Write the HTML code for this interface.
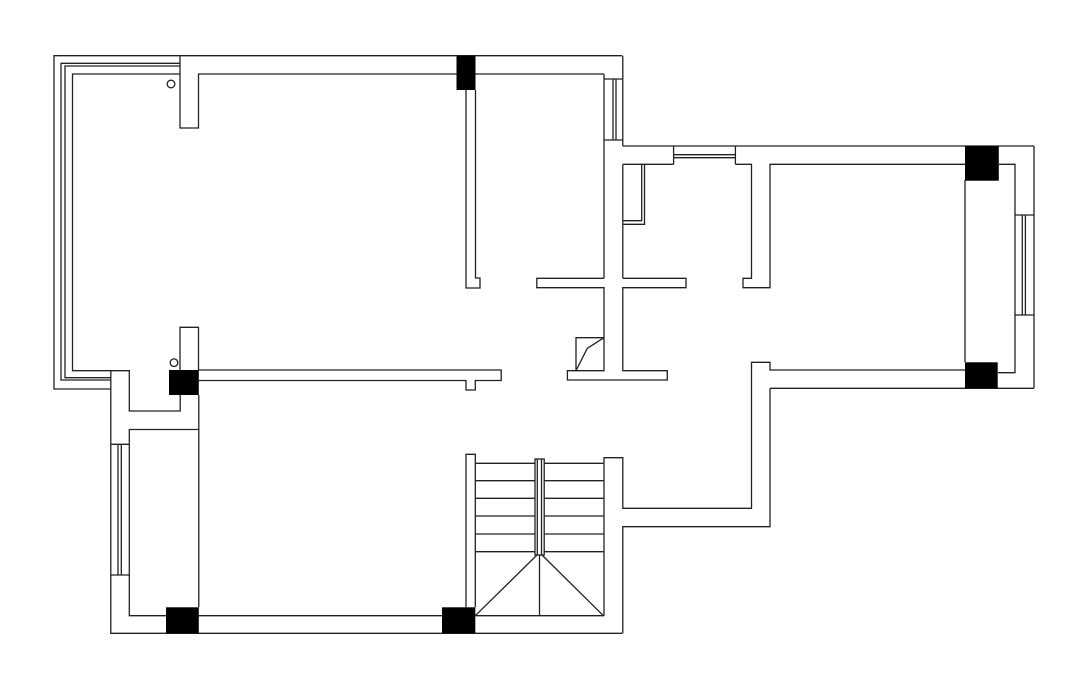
<!DOCTYPE html>
<html><head><meta charset="utf-8"><style>html,body{margin:0;padding:0;background:#fff}svg{display:block}</style></head>
<body>
<svg width="1080" height="683" viewBox="0 0 1080 683" xmlns="http://www.w3.org/2000/svg">
<g fill="none" stroke="#222" stroke-width="1.3">
<!-- left balcony outline -->
<polyline points="180,55.7 54,55.7 54,389 110.8,389"/>
<polyline points="180,63.3 61,63.3 61,380 110.8,380"/>
<polyline points="180,66 65,66 65,377.7 110.8,377.7"/>
<polyline points="180,74 72.5,74 72.5,370.7 110.8,370.7"/>
<!-- top wall -->
<line x1="180" y1="55.7" x2="622" y2="55.7"/>
<polyline points="180,55.7 180,128 198.5,128 198.5,74 456.5,74"/>
<line x1="475.5" y1="74" x2="604" y2="74"/>
<!-- partition -->
<polyline points="466,90 466,288 480,288 480,278 475.5,278 475.5,90"/>
<!-- top right window -->
<line x1="622.8" y1="55.7" x2="622.8" y2="146"/>
<line x1="604" y1="79" x2="622.8" y2="79"/>
<line x1="604" y1="140" x2="622.8" y2="140"/>
<line x1="613" y1="79" x2="613" y2="140"/>
<line x1="616" y1="79" x2="616" y2="140"/>
<!-- central wall & cross -->
<line x1="604" y1="74" x2="604" y2="278.3"/>
<line x1="622.8" y1="164.3" x2="622.8" y2="278.3"/>
<polyline points="604,278.3 536.8,278.3 536.8,287.7 604,287.7 604,370.7 567.4,370.7 567.4,380 667.3,380 667.3,370.7 622.8,370.7 622.8,287.7 686,287.7 686,278.3 622.8,278.3"/>
<!-- small door box -->
<polyline points="576,370.7 576,337.7 604,337.7"/>
<polyline points="576,370.7 587.3,348.3 604,337.7"/>
<!-- shelf -->
<polyline points="641.7,164.3 641.7,220.7 622.8,220.7"/>
<polyline points="644.5,164.3 644.5,224.3 622.8,224.3"/>
<!-- right part top -->
<line x1="622.8" y1="146" x2="1034" y2="146"/>
<polyline points="622.8,164.3 673.6,164.3"/>
<line x1="673.6" y1="146" x2="673.6" y2="164.3"/>
<line x1="735.4" y1="146" x2="735.4" y2="164.3"/>
<line x1="673.6" y1="154.7" x2="735.4" y2="154.7"/>
<line x1="673.6" y1="157.7" x2="735.4" y2="157.7"/>
<polyline points="735.4,164.3 751.5,164.3 751.5,278.3 743,278.3 743,287.7 770,287.7 770,164.3 965,164.3"/>
<!-- right side -->
<polyline points="999,164.3 1015,164.3 1015,215"/>
<polyline points="1015,315 1015,372.7 998,372.7"/>
<line x1="1034" y1="146" x2="1034" y2="388.3"/>
<line x1="1015" y1="215" x2="1034" y2="215"/>
<line x1="1015" y1="315" x2="1034" y2="315"/>
<line x1="1015" y1="215" x2="1015" y2="315"/>
<line x1="1022.3" y1="215" x2="1022.3" y2="315"/>
<line x1="1025.4" y1="215" x2="1025.4" y2="315"/>
<line x1="965" y1="180" x2="965" y2="362.3"/>
<line x1="770" y1="388.3" x2="1034" y2="388.3"/>
<polyline points="965,370 770,370 770,362.3 751.5,362.3 751.5,508.3 622.8,508.3 622.8,457.7 604,457.7 604,615.7"/>
<polyline points="770,388.3 770,526.7 622.8,526.7 622.8,633.3"/>
<!-- lower left -->
<polyline points="198.8,370 501.2,370 501.2,380.5 475.3,380.5 475.3,390 466,390 466,380.5 198.8,380.5"/>
<polyline points="180,370 180,327.3 198.5,327.3 198.5,370"/>
<polyline points="110.8,370.7 110.8,633.3 622.4,633.3"/>
<polyline points="110.8,370.7 129.3,370.7 129.3,411 180.2,411 180.2,395"/>
<line x1="198.8" y1="395" x2="198.8" y2="607.3"/>
<polyline points="198.8,429.5 129.3,429.5 129.3,615.7 166,615.7"/>
<line x1="110.8" y1="444.3" x2="129.3" y2="444.3"/>
<line x1="110.8" y1="575" x2="129.3" y2="575"/>
<line x1="118" y1="444.3" x2="118" y2="575"/>
<line x1="121.3" y1="444.3" x2="121.3" y2="575"/>
<line x1="198.8" y1="615.7" x2="442" y2="615.7"/>
<line x1="475.3" y1="615.7" x2="604" y2="615.7"/>
<!-- stair -->
<polyline points="466,607.3 466,454.3 475.3,454.3 475.3,607.3"/>
<line x1="475.3" y1="463.3" x2="603.4" y2="463.3"/>
<line x1="475.3" y1="480.7" x2="603.4" y2="480.7"/>
<line x1="475.3" y1="498.3" x2="603.4" y2="498.3"/>
<line x1="475.3" y1="516" x2="603.4" y2="516"/>
<line x1="475.3" y1="534" x2="603.4" y2="534"/>
<line x1="475.3" y1="551.7" x2="603.4" y2="551.7"/>
<rect x="535" y="459" width="9.2" height="96" fill="#fff"/>
<line x1="537.3" y1="459" x2="537.3" y2="555"/>
<line x1="541.5" y1="459" x2="541.5" y2="555"/>
<line x1="537" y1="555" x2="475.3" y2="615.7"/>
<line x1="542" y1="555" x2="603.4" y2="615.7"/>
<line x1="539.5" y1="555" x2="539.5" y2="615.7"/>
<!-- circles -->
<circle cx="171" cy="84" r="3.8"/>
<circle cx="174" cy="362.7" r="3.8"/>
</g>
<g fill="#000">
<rect x="456.5" y="55.7" width="19" height="34.3"/>
<rect x="965" y="146" width="33.8" height="34.7"/>
<rect x="965" y="362.3" width="32.7" height="26"/>
<rect x="169" y="370" width="29.8" height="25"/>
<rect x="166" y="607.3" width="32.8" height="26"/>
<rect x="442" y="607.3" width="33.3" height="26"/>
</g>
</svg>
</body></html>
